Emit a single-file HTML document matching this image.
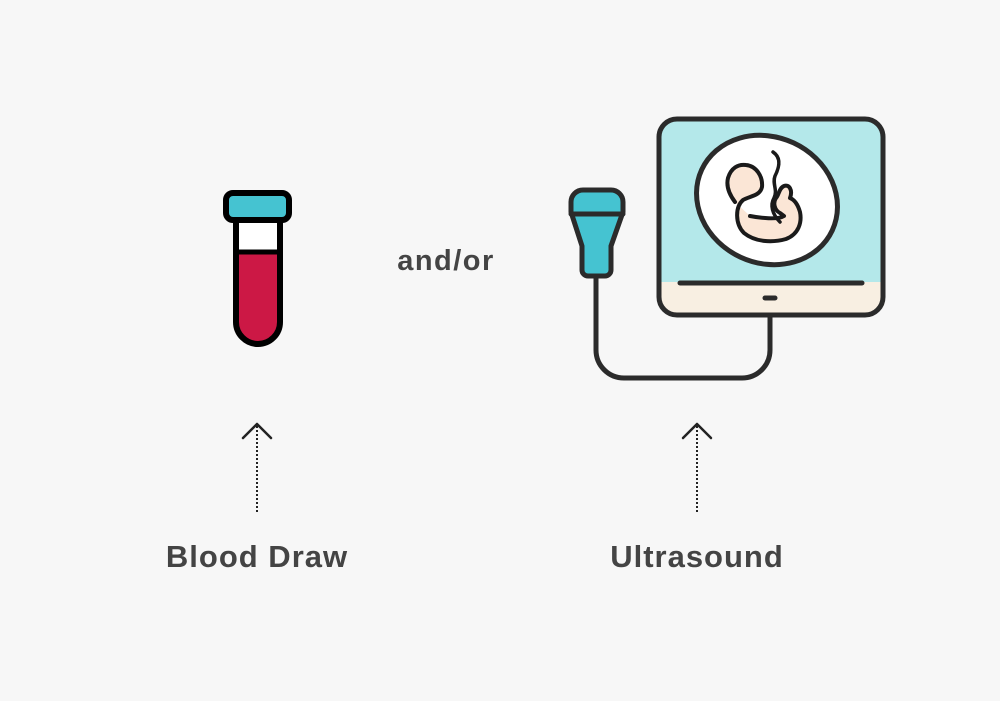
<!DOCTYPE html>
<html><head><style>
body{margin:0;width:1000px;height:701px;background:#f7f7f7;overflow:hidden;font-family:"Liberation Sans",sans-serif}
.t{position:absolute;font-weight:bold;color:#444;font-size:31px;letter-spacing:1px;transform:translateX(-50%);white-space:nowrap}
</style></head><body>
<svg width="1000" height="701" style="position:absolute;left:0;top:0" fill="none" stroke="#2b2b2b" stroke-width="5" stroke-linecap="round" stroke-linejoin="round">
<!-- tube -->
<path d="M236 220 V322 a22 22 0 0 0 44 0 V220 Z" fill="#fff" stroke="none"/>
<path d="M236 253 V322 a22 22 0 0 0 44 0 V253 Z" fill="#cc1845" stroke="none"/>
<path d="M236 220 V322 a22 22 0 0 0 44 0 V220" stroke="#000" stroke-width="6"/>
<line x1="236" y1="252" x2="280" y2="252" stroke="#000" stroke-width="5"/>
<rect x="226" y="193" width="63" height="27" rx="7" fill="#45c3d1" stroke="#000" stroke-width="6"/>
<!-- cable -->
<path d="M596 276 V350 a28 28 0 0 0 28 28 H742 a28 28 0 0 0 28 -28 V316"/>
<!-- probe -->
<path d="M571 202 a12 12 0 0 1 12 -12 h28 a12 12 0 0 1 12 12 v10 l-12 34 v24 a6 6 0 0 1 -6 6 h-17 a6 6 0 0 1 -6 -6 v-24 l-11 -34 Z" fill="#45c3d1"/>
<line x1="571" y1="214" x2="623" y2="214"/>
<!-- monitor -->
<path d="M659 282 V137 a18 18 0 0 1 18 -18 H865 a18 18 0 0 1 18 18 V282 Z" fill="#b4e8ea" stroke="none"/>
<path d="M659 282 V296 a18 18 0 0 0 18 18 H865 a18 18 0 0 0 18 -18 V282 Z" fill="#f8efe2" stroke="none"/>
<rect x="659" y="119" width="224" height="196" rx="18"/>
<line x1="680" y1="283" x2="862" y2="283"/>
<line x1="765" y1="298" x2="775" y2="298"/>
<ellipse cx="767" cy="200" rx="72" ry="63" transform="rotate(25 767 200)" fill="#fff"/>
<!-- fetus -->
<path d="M735 202 C729 194 726 186 728 178 C731 168 738 164 746 165 C756 166 763 176 762 187 C760 196 750 196 743 200 C735 207 735 224 744 233 C755 242 772 243 786 239 C799 234 802 222 800 212 C798 205 795 200 790 198 C793 190 789 184 784 186 C779 188 779 195 776 198 C773 202 774 210 780 213 L784 216 C778 220 760 218 750 216" fill="#fbe6d6" stroke="#1a1a1a" stroke-width="4"/>
<path d="M773 152 C782 158 779 168 775 176 C772 184 778 190 774 198 C770 205 772 214 780 222" stroke="#1a1a1a" stroke-width="3.5"/>
<!-- arrows -->
<line x1="257" y1="426" x2="257" y2="512" stroke="#222" stroke-width="2" stroke-dasharray="2 2" stroke-linecap="butt"/>
<path d="M243 438 L257 424 L271 438" stroke="#222" stroke-width="2.5"/>
<line x1="697" y1="426" x2="697" y2="512" stroke="#222" stroke-width="2" stroke-dasharray="2 2" stroke-linecap="butt"/>
<path d="M683 438 L697 424 L711 438" stroke="#222" stroke-width="2.5"/>
</svg>
<div class="t" style="left:446px;top:245px;font-size:29px;letter-spacing:1.5px">and/or</div>
<div class="t" style="left:257px;top:539px">Blood Draw</div>
<div class="t" style="left:697px;top:539px">Ultrasound</div>
</body></html>
